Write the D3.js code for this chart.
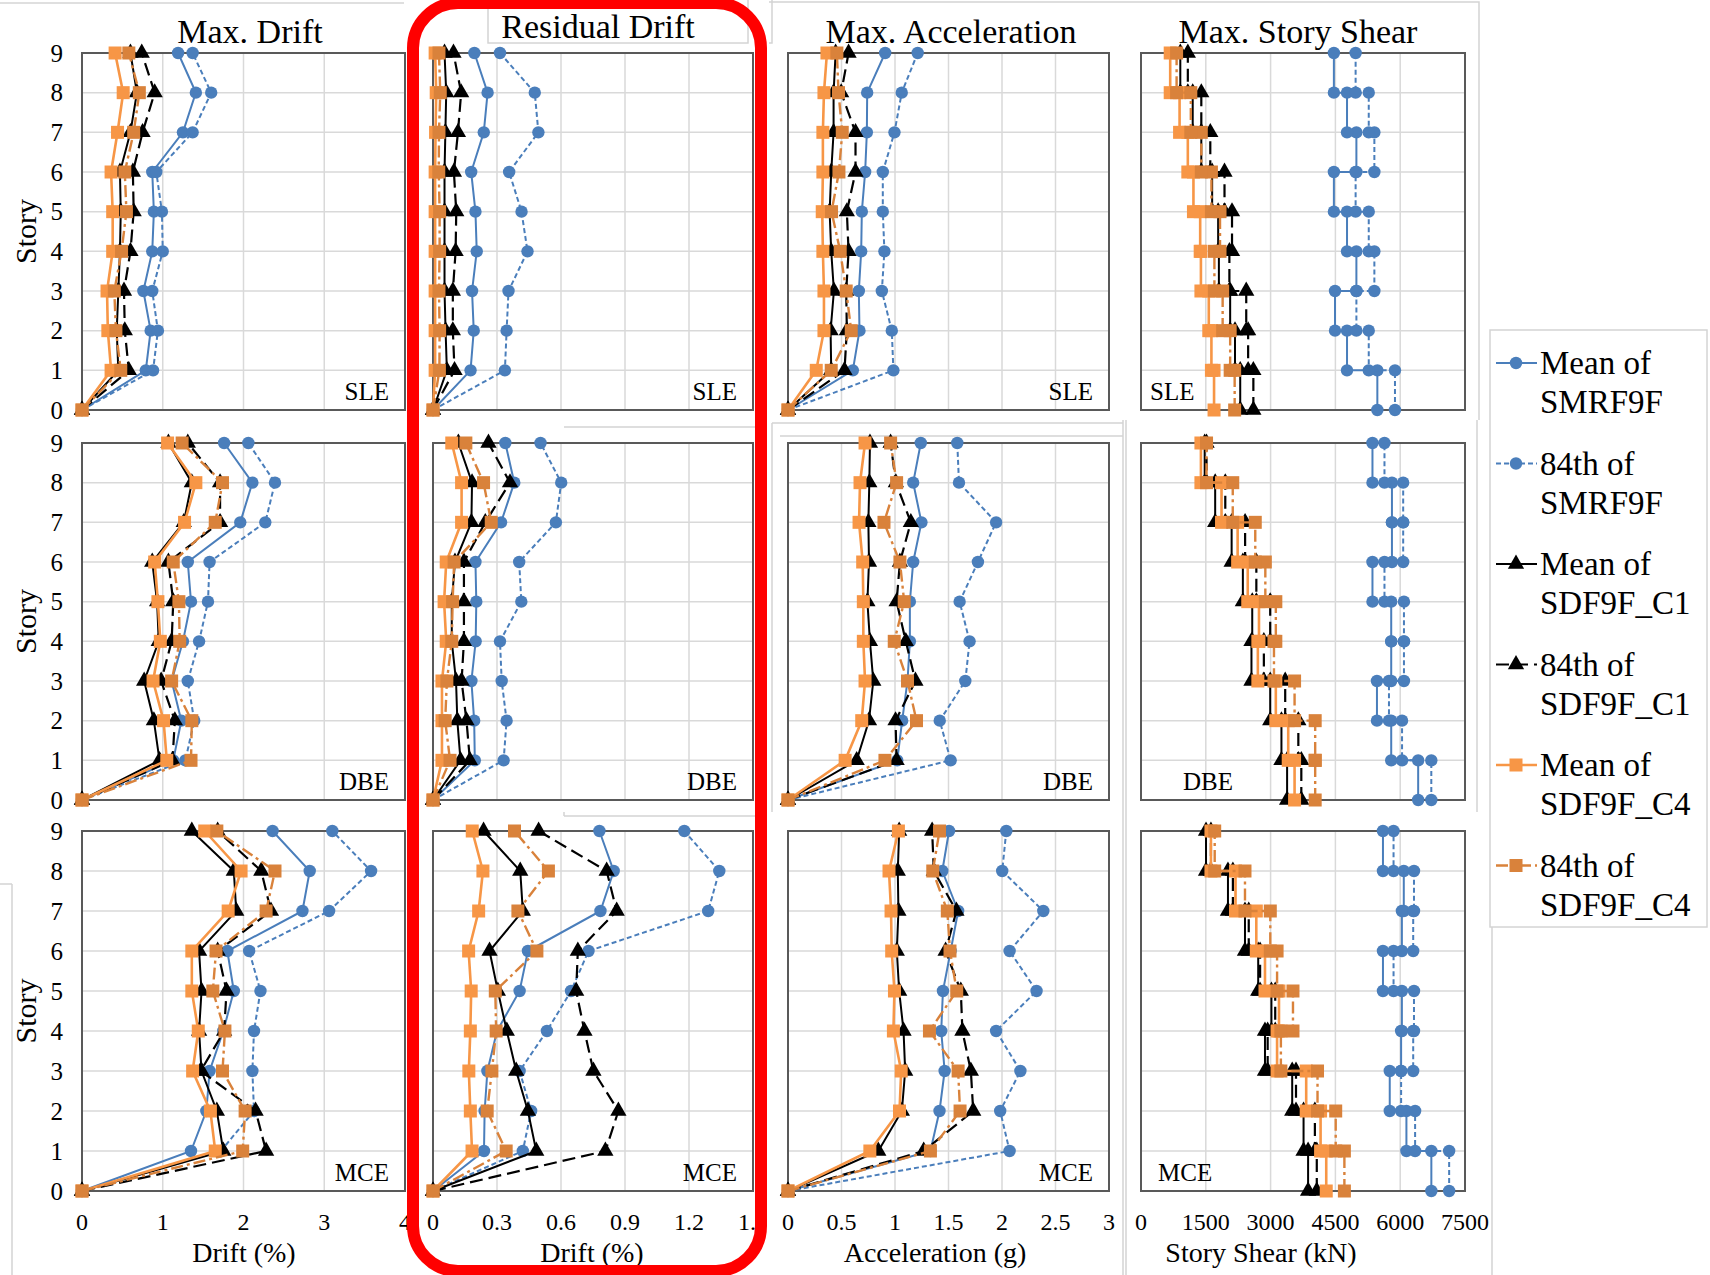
<!DOCTYPE html>
<html lang="en">
<head>
<meta charset="UTF-8">
<title>Story response profiles</title>
<style>
  body { margin: 0; background: #fff; }
  svg { display: block; font-family: "Liberation Serif", "Times New Roman", serif; }
</style>
</head>
<body>
<svg id="svg" width="1710" height="1275"></svg>
<script src="https://d3js.org/d3.v7.min.js"></script>
<script>
// ------ DATA ------------------------
const stories = [0, 1, 2, 3, 4, 5, 6, 7, 8, 9]
const seriesNames = [
  ['Mean of', 'SMRF9F'], ['84th of', 'SMRF9F'],
  ['Mean of', 'SDF9F_C1'], ['84th of', 'SDF9F_C1'],
  ['Mean of', 'SDF9F_C4'], ['84th of', 'SDF9F_C4']
]
const hazardLevels = ['SLE', 'DBE', 'MCE']

const driftTicks = [0, 1, 2, 3, 4]
const residualTicks = [0, 0.3, 0.6, 0.9, 1.2, 1.5]
const accelTicks = [0, 0.5, 1, 1.5, 2, 2.5, 3]
const shearTicks = [0, 1500, 3000, 4500, 6000, 7500]

// each row = one series, values for story 1 -> 9 (story 0 is the base)
const maxDriftSLE = [
  [0.79, 0.85, 0.76, 0.87, 0.89, 0.87, 1.25, 1.41, 1.19],
  [0.88, 0.94, 0.87, 1.00, 0.99, 0.92, 1.37, 1.60, 1.37],
  [0.45, 0.43, 0.45, 0.47, 0.48, 0.47, 0.60, 0.68, 0.60],
  [0.58, 0.53, 0.52, 0.60, 0.64, 0.63, 0.75, 0.90, 0.74],
  [0.36, 0.32, 0.31, 0.38, 0.38, 0.36, 0.44, 0.51, 0.41],
  [0.48, 0.42, 0.40, 0.49, 0.55, 0.53, 0.64, 0.71, 0.58]
]
const maxDriftDBE = [
  [1.13, 1.23, 1.11, 1.25, 1.35, 1.31, 1.96, 2.11, 1.76],
  [1.28, 1.39, 1.31, 1.45, 1.56, 1.58, 2.27, 2.39, 2.06],
  [0.96, 0.89, 0.77, 0.95, 0.93, 0.87, 1.26, 1.36, 1.07],
  [1.12, 1.15, 0.98, 1.11, 1.13, 1.07, 1.71, 1.71, 1.31],
  [1.05, 1.01, 0.88, 0.97, 0.94, 0.90, 1.27, 1.41, 1.06],
  [1.35, 1.36, 1.11, 1.21, 1.20, 1.13, 1.65, 1.74, 1.24]
]
const maxDriftMCE = [
  [1.35, 1.54, 1.58, 1.75, 1.88, 1.80, 2.73, 2.82, 2.36],
  [1.72, 2.13, 2.11, 2.13, 2.21, 2.07, 3.06, 3.58, 3.10],
  [1.75, 1.67, 1.48, 1.45, 1.48, 1.45, 1.91, 1.88, 1.36],
  [2.28, 2.15, 1.47, 1.76, 1.79, 1.68, 2.34, 2.22, 1.68],
  [1.65, 1.59, 1.37, 1.44, 1.36, 1.36, 1.81, 1.97, 1.52],
  [1.99, 2.02, 1.74, 1.77, 1.62, 1.66, 2.28, 2.39, 1.67]
]

const residualSLE = [
  [0.176, 0.191, 0.183, 0.205, 0.199, 0.179, 0.238, 0.256, 0.194],
  [0.337, 0.345, 0.354, 0.443, 0.415, 0.357, 0.494, 0.477, 0.314],
  [0.065, 0.059, 0.054, 0.054, 0.054, 0.054, 0.058, 0.062, 0.054],
  [0.101, 0.093, 0.093, 0.106, 0.109, 0.098, 0.117, 0.132, 0.096],
  [0.010, 0.010, 0.010, 0.010, 0.010, 0.010, 0.012, 0.015, 0.010],
  [0.030, 0.031, 0.028, 0.031, 0.031, 0.027, 0.028, 0.034, 0.028]
]
const residualDBE = [
  [0.196, 0.193, 0.180, 0.200, 0.203, 0.199, 0.319, 0.381, 0.339],
  [0.331, 0.345, 0.322, 0.314, 0.414, 0.404, 0.576, 0.601, 0.504],
  [0.129, 0.114, 0.108, 0.088, 0.088, 0.103, 0.180, 0.183, 0.119],
  [0.173, 0.157, 0.134, 0.145, 0.145, 0.145, 0.245, 0.361, 0.260],
  [0.042, 0.042, 0.042, 0.062, 0.052, 0.062, 0.134, 0.134, 0.088],
  [0.080, 0.057, 0.065, 0.088, 0.092, 0.099, 0.273, 0.237, 0.154]
]
const residualMCE = [
  [0.239, 0.242, 0.255, 0.300, 0.406, 0.445, 0.785, 0.847, 0.780],
  [0.421, 0.460, 0.406, 0.534, 0.647, 0.729, 1.290, 1.342, 1.178],
  [0.484, 0.445, 0.390, 0.346, 0.304, 0.265, 0.421, 0.409, 0.237],
  [0.808, 0.869, 0.752, 0.710, 0.671, 0.679, 0.861, 0.814, 0.495],
  [0.183, 0.175, 0.168, 0.175, 0.179, 0.167, 0.214, 0.234, 0.184],
  [0.343, 0.254, 0.276, 0.296, 0.292, 0.487, 0.398, 0.541, 0.382]
]

const accelSLE = [
  [0.606, 0.668, 0.662, 0.684, 0.690, 0.721, 0.737, 0.740, 0.908],
  [0.985, 0.970, 0.877, 0.901, 0.886, 0.886, 0.995, 1.063, 1.212],
  [0.404, 0.398, 0.429, 0.404, 0.389, 0.404, 0.426, 0.426, 0.445],
  [0.528, 0.550, 0.544, 0.566, 0.550, 0.631, 0.631, 0.497, 0.566],
  [0.264, 0.336, 0.336, 0.326, 0.320, 0.326, 0.326, 0.336, 0.364],
  [0.404, 0.591, 0.544, 0.488, 0.407, 0.476, 0.507, 0.472, 0.457]
]
const accelDBE = [
  [1.021, 1.067, 1.117, 1.139, 1.139, 1.170, 1.247, 1.170, 1.241],
  [1.520, 1.418, 1.657, 1.697, 1.604, 1.775, 1.945, 1.598, 1.582],
  [0.642, 0.757, 0.797, 0.766, 0.742, 0.757, 0.751, 0.760, 0.766],
  [1.015, 1.005, 1.191, 1.101, 1.015, 1.046, 1.148, 1.008, 0.959],
  [0.534, 0.689, 0.720, 0.704, 0.704, 0.698, 0.664, 0.673, 0.720],
  [0.906, 1.201, 1.117, 0.993, 1.086, 1.046, 0.897, 1.015, 0.959]
]
const accelMCE = [
  [1.331, 1.416, 1.464, 1.432, 1.448, 1.520, 1.590, 1.442, 1.505],
  [2.071, 1.983, 2.172, 1.945, 2.323, 2.071, 2.386, 2.002, 2.040],
  [0.844, 1.064, 1.095, 1.080, 1.039, 1.017, 1.032, 1.026, 1.039],
  [1.268, 1.731, 1.709, 1.630, 1.615, 1.473, 1.574, 1.363, 1.347],
  [0.765, 1.042, 1.058, 0.985, 0.995, 0.969, 0.963, 0.944, 1.032],
  [1.331, 1.608, 1.590, 1.322, 1.577, 1.514, 1.489, 1.353, 1.416]
]

// story shear of story 1 -> 9 (kN), drawn as steps
const shearSLE = [
  [5471, 4769, 4491, 4986, 4769, 4465, 4986, 4769, 4465],
  [5879, 5272, 4986, 5402, 5272, 4968, 5402, 5272, 4968],
  [2297, 2176, 2064, 1803, 1786, 1647, 1396, 1197, 910],
  [2601, 2480, 2436, 2046, 2107, 1933, 1604, 1396, 1084],
  [1691, 1630, 1569, 1387, 1370, 1214, 1084, 893, 676],
  [2168, 2064, 1890, 1699, 1829, 1630, 1396, 1153, 824]
]
const shearDBE = [
  [6416, 5792, 5462, 5792, 5792, 5358, 5809, 5809, 5358],
  [6720, 6043, 5740, 6087, 6087, 5636, 6069, 6069, 5636],
  [3382, 3251, 2991, 2557, 2575, 2358, 2098, 1717, 1474],
  [3711, 3642, 3338, 2844, 2991, 2670, 2410, 1951, 1517],
  [3555, 3408, 3121, 2705, 2731, 2471, 2237, 1864, 1387],
  [4032, 4032, 3555, 3078, 3121, 2878, 2645, 2124, 1517]
]
const shearMCE = [
  [6721, 6144, 5758, 6021, 6039, 5601, 6039, 6083, 5601],
  [7133, 6345, 6021, 6301, 6319, 5846, 6301, 6319, 5846],
  [3868, 3763, 3500, 2870, 3019, 2713, 2407, 2013, 1505],
  [4069, 4025, 3588, 2932, 3107, 2757, 2494, 2127, 1619],
  [4288, 4157, 3824, 3150, 3194, 2870, 2669, 2188, 1619],
  [4708, 4507, 4086, 3238, 3518, 3150, 2993, 2407, 1706]
]

// ------ LAYOUT / STYLE ------------------------
const blue = '#4A7EBB', orange = '#F79646', darkOrange = '#D9823B'
const styles = [
  { color: blue, dash: null, width: 2, marker: 'circle' },
  { color: blue, dash: '5,3', width: 2, marker: 'circle' },
  { color: '#000', dash: null, width: 2, marker: 'triangle' },
  { color: '#000', dash: '13,6', width: 2.2, marker: 'triangle' },
  { color: orange, dash: null, width: 2.6, marker: 'square' },
  { color: darkOrange, dash: '12,4,3,4', width: 2.4, marker: 'square' }
]

const columns = [
  { title: 'Max. Drift', titleX: 250, titleY: 43, xLabel: 'Drift (%)', xLabelX: 244,
    ticks: driftTicks, x0: 82, x1: 405, data: [maxDriftSLE, maxDriftDBE, maxDriftMCE], step: false },
  { title: 'Residual Drift', titleX: 598, titleY: 38, xLabel: 'Drift (%)', xLabelX: 592,
    ticks: residualTicks, x0: 433, x1: 753, data: [residualSLE, residualDBE, residualMCE], step: false },
  { title: 'Max. Acceleration', titleX: 951, titleY: 43, xLabel: 'Acceleration (g)', xLabelX: 935,
    ticks: accelTicks, x0: 788, x1: 1109, data: [accelSLE, accelDBE, accelMCE], step: false },
  { title: 'Max. Story Shear', titleX: 1298, titleY: 43, xLabel: 'Story Shear (kN)', xLabelX: 1261,
    ticks: shearTicks, x0: 1141, x1: 1465, data: [shearSLE, shearDBE, shearMCE], step: true }
]
const rows = [
  { top: 53, bottom: 410, shearLabelX: 1150 },
  { top: 443, bottom: 800, shearLabelX: 1183 },
  { top: 831, bottom: 1191, shearLabelX: 1158 }
]

const svg = d3.select('#svg')

// faint chart-area borders of the pasted screenshots
const faint = svg.append('g').attr('stroke', '#d4d4d4').attr('stroke-width', 1.5).attr('fill', 'none')
faint.append('path').attr('d', 'M0,3H404')
faint.append('rect').attr('x', 488).attr('y', -2).attr('width', 260).attr('height', 45)
faint.append('path').attr('d', 'M564,427H755 M564,816H755 M564,812V816')
faint.append('path').attr('d', 'M769,2H1123 M772,0V43H769')
faint.append('path').attr('d', 'M772,423H1123 M772,423V812 M780,436H1123 M1123,420V1275')
faint.append('path').attr('d', 'M1123,2H1479V420 M1126,420V1275 M1477,420V812')
faint.append('path').attr('d', 'M12,884V1275 M0,884H12 M1492,925V1275')

function drawMarker(g, type, color, x, y) {
  if (type === 'circle') {
    g.append('circle').attr('cx', x).attr('cy', y).attr('r', 6.2).attr('fill', color)
  } else if (type === 'square') {
    g.append('rect').attr('x', x - 6.5).attr('y', y - 6.5).attr('width', 13).attr('height', 13).attr('fill', color)
  } else {
    g.append('path').attr('d', d3.symbol(d3.symbolTriangle, 115)())
      .attr('transform', `translate(${x},${y})`).attr('fill', color)
  }
}

columns.forEach((col, ci) => {
  const x = d3.scaleLinear().domain(d3.extent(col.ticks)).range([col.x0, col.x1])

  svg.append('text').attr('x', col.titleX).attr('y', col.titleY)
    .attr('text-anchor', 'middle').attr('font-size', 34).text(col.title)

  rows.forEach((row, ri) => {
    const y = d3.scaleLinear().domain([0, 9]).range([row.bottom, row.top])
    const g = svg.append('g')

    // grid
    g.selectAll('.vg').data(col.ticks).join('line')
      .attr('x1', d => x(d)).attr('x2', d => x(d))
      .attr('y1', row.top).attr('y2', row.bottom)
      .attr('stroke', '#d9d9d9').attr('stroke-width', 1.5)
    g.selectAll('.hg').data(stories).join('line')
      .attr('x1', col.x0).attr('x2', col.x1)
      .attr('y1', d => y(d)).attr('y2', d => y(d))
      .attr('stroke', '#d9d9d9').attr('stroke-width', 1.5)
    g.append('rect').attr('x', col.x0).attr('y', row.top)
      .attr('width', col.x1 - col.x0).attr('height', row.bottom - row.top)
      .attr('fill', 'none').attr('stroke', '#595959').attr('stroke-width', 2)

    // series
    col.data[ri].forEach((vals, si) => {
      const st = styles[si]
      let pts
      if (col.step) {
        pts = [[vals[0], 0]]
        vals.forEach((v, k) => {
          if (k > 0) pts.push([v, k])
          pts.push([v, k + 1])
        })
      } else {
        pts = [[0, 0]].concat(vals.map((v, k) => [v, k + 1]))
      }
      const line = d3.line().x(d => x(d[0])).y(d => y(d[1]))
      const sg = g.append('g')
      sg.append('path').attr('d', line(pts)).attr('fill', 'none')
        .attr('stroke', st.color).attr('stroke-width', st.width)
        .attr('stroke-dasharray', st.dash)
      pts.forEach(p => drawMarker(sg, st.marker, st.color, x(p[0]), y(p[1])))
    })

    // hazard level label
    if (col.step) {
      g.append('text').attr('x', row.shearLabelX).attr('y', row.bottom - 10)
        .attr('font-size', 25).text(hazardLevels[ri])
    } else {
      g.append('text').attr('x', col.x1 - 16).attr('y', row.bottom - 10)
        .attr('text-anchor', 'end').attr('font-size', 25).text(hazardLevels[ri])
    }

    // story axis on the first column
    if (ci === 0) {
      g.selectAll('.yt').data(stories).join('text')
        .attr('x', 63).attr('y', d => y(d)).attr('dy', '0.35em')
        .attr('text-anchor', 'end').attr('font-size', 25).text(d => d)
      g.append('text').attr('transform', `translate(36,${(row.top + row.bottom) / 2}) rotate(-90)`)
        .attr('text-anchor', 'middle').attr('font-size', 30).text('Story')
    }

    // x axis on the bottom row
    if (ri === 2) {
      const tg = g.append('g')
      if (ci === 1) {
        svg.append('clipPath').attr('id', 'clipRes').append('rect')
          .attr('x', 380).attr('y', 1190).attr('width', 376).attr('height', 60)
        tg.attr('clip-path', 'url(#clipRes)')
      }
      tg.selectAll('text').data(col.ticks).join('text')
        .attr('x', d => x(d)).attr('y', 1230).attr('text-anchor', 'middle')
        .attr('font-size', 24).text(d => d)
      g.append('text').attr('x', col.xLabelX).attr('y', 1262)
        .attr('text-anchor', 'middle').attr('font-size', 28).text(col.xLabel)
    }
  })
})

// legend
const lg = svg.append('g')
lg.append('rect').attr('x', 1490).attr('y', 330).attr('width', 217).attr('height', 597)
  .attr('fill', '#fff').attr('stroke', '#d4d4d4').attr('stroke-width', 1.5)
seriesNames.forEach((nm, i) => {
  const st = styles[i]
  const cy = 363 + i * 100.5
  lg.append('line').attr('x1', 1496).attr('x2', 1537).attr('y1', cy).attr('y2', cy)
    .attr('stroke', st.color).attr('stroke-width', st.width).attr('stroke-dasharray', st.dash)
  drawMarker(lg, st.marker, st.color, 1516, cy)
  lg.append('text').attr('x', 1540).attr('y', cy + 11).attr('font-size', 33).text(nm[0])
  lg.append('text').attr('x', 1540).attr('y', cy + 50).attr('font-size', 33).text(nm[1])
})

// red highlight around the residual drift column
svg.append('rect').attr('x', 413).attr('y', 3).attr('width', 348).attr('height', 1268)
  .attr('rx', 45).attr('ry', 45).attr('fill', 'none')
  .attr('stroke', '#ff0000').attr('stroke-width', 12)
</script>
</body>
</html>
